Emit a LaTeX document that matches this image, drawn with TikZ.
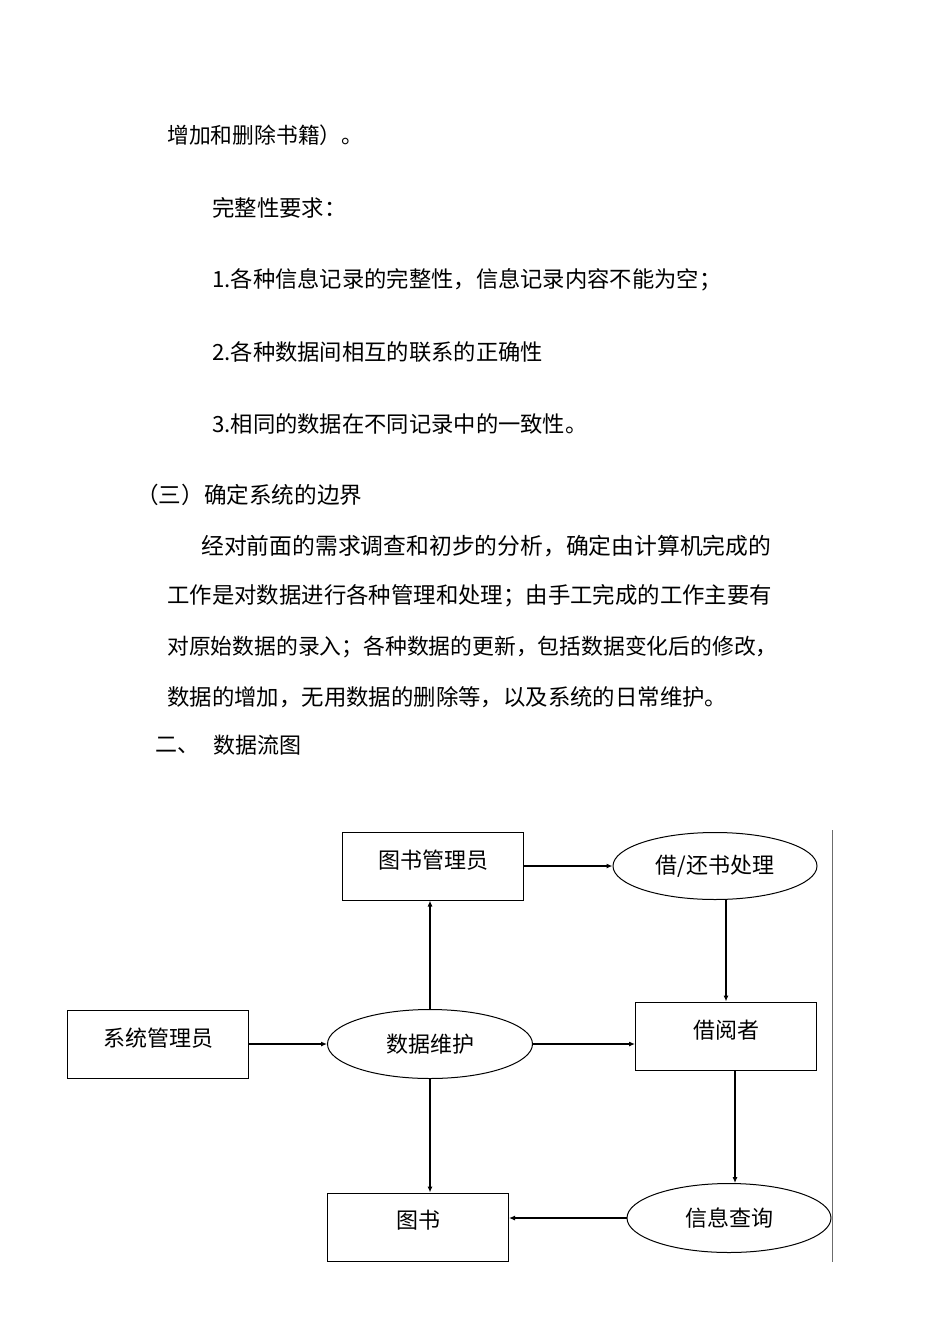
\documentclass[tikz,border=0pt]{standalone}
\usepackage{fontspec}
\newfontfamily\cjk{Noto Sans CJK SC}
\usetikzlibrary{shapes.geometric,arrows.meta,calc}
\tikzset{
  body/.style={anchor=west,inner sep=0pt,font=\cjk\fontsize{#1}{24}\selectfont},
  body/.default=22,
  ent/.style={draw,line width=1pt,rectangle,minimum width=181pt,minimum height=68pt,inner sep=0pt},
  proc/.style={draw,line width=1pt,ellipse,minimum width=204pt,minimum height=67pt,inner sep=0pt,font=\cjk\fontsize{22}{24}\selectfont},
  lbl/.style={font=\cjk\fontsize{22}{24}\selectfont,inner sep=0pt},
  flow/.style={line width=1.1pt,-{Latex[length=6pt,width=5pt]}}
}
\begin{document}
\begin{tikzpicture}[x=1pt,y=-1pt]
\useasboundingbox (0,0) rectangle (950,1344);
% body text
\node[body=21.8] (t0) at (167,135) {增加和删除书籍）。};
\node[body=22.4] (t1) at (212,208) {完整性要求：};
\node[body=22.3] (t2) at (212,280) {1.各种信息记录的完整性，信息记录内容不能为空；};
\node[body=22.3] (t3) at (212,352) {2.各种数据间相互的联系的正确性};
\node[body=22.3] (t4) at (212,424) {3.相同的数据在不同记录中的一致性。};
\node[body=22.6] (t5) at (136,495) {（三）确定系统的边界};
\node[body=22.8] (t6) at (201,546) {经对前面的需求调查和初步的分析，确定由计算机完成的};
\node[body=22.4] (t7) at (167,596) {工作是对数据进行各种管理和处理；由手工完成的工作主要有};
\node[body=21.8] (t8) at (167,647) {对原始数据的录入；各种数据的更新，包括数据变化后的修改，};
\node[body=22.4] (t9) at (167,697) {数据的增加，无用数据的删除等，以及系统的日常维护。};
\node[body] (t10) at (155,745) {二、};
\node[body] (t11) at (213,745) {数据流图};
% diagram
\node[ent,label={[lbl,yshift=6pt]center:图书管理员}] (libm) at (433,866) {};
\node[proc] (bp) at (715,866) {借/还书处理};
\node[ent,label={[lbl,yshift=6pt]center:系统管理员}] (sys) at (158,1044) {};
\node[proc,minimum width=205pt,minimum height=69pt] (dm) at (430,1044) {数据维护};
\node[ent,label={[lbl,yshift=6pt]center:借阅者}] (reader) at (726,1036) {};
\node[ent,label={[lbl,yshift=7pt]center:图书}] (book) at (418,1227) {};
\node[proc,minimum height=69pt] (query) at (729,1218) {信息查询};
% connectors
\draw[flow] (sys.east) -- (dm.west);
\draw[flow] (dm.north) -- (dm.north |- libm.south);
\draw[flow] (libm.east) -- (bp.west);
\draw[flow] (reader.north |- bp.south) -- (reader.north);
\draw[flow] (dm.east) -- (dm.east -| reader.west);
\draw[flow] (dm.south) -- (dm.south |- book.north);
\coordinate (rq) at ($(reader.south)+(9,0)$);
\draw[flow] (rq) -- (rq |- query.north);
\draw[flow] (query.west) -- (query.west -| book.east);
% right margin line
\coordinate (vtop) at (832,830);
\coordinate (vbot) at (832,1262);
\draw[gray!85!black,line width=1pt] (vtop) -- (vbot);
\end{tikzpicture}
\end{document}
